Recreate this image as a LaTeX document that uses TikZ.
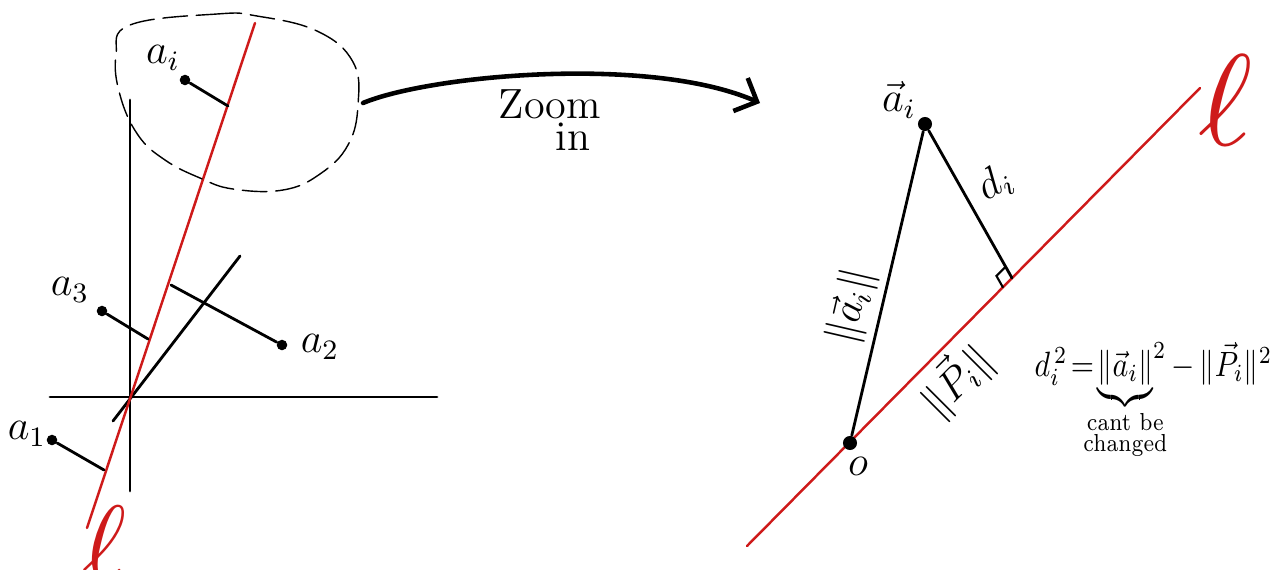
\documentclass[tikz,border=0pt]{standalone}
\usepackage{amsmath}
\usepackage{mathtools}
\usepackage{xcolor}
\usetikzlibrary{positioning, calc, arrows.meta}
\definecolor{lred}{RGB}{206,26,26}

\begin{document}
\begin{tikzpicture}[x=0.01cm, y=-0.01cm, line cap=round,
    redline/.style={lred, line width=0.7pt},
    dot/.style={circle, fill, inner sep=0pt, minimum size=3pt},
    lbl/.style={font=\large}]
  \useasboundingbox (0,0) rectangle (1275,569);

  % Left: axes and the line l
  \coordinate (o) at (130,397);
  \coordinate (xl) at (50,397);
  \coordinate (xr) at (437,397);
  \coordinate (yt) at (130,100);
  \coordinate (yb) at (130,491);
  \coordinate (zl) at (113,421);
  \coordinate (zr) at (240,256);
  \draw[thick] (xl) -- (xr);
  \draw[thick] (yt) -- (yb);
  \draw[thick] (zl) -- (zr);
  \coordinate (lb) at (87,528);
  \coordinate (lt) at (255,23);
  \draw[redline] (lb) -- (lt);
  \node[text=lred, scale=3] (ellA) at (104,543) {$\ell$};

  % Points and their distances to l
  \foreach \n/\pt/\ft/\lpos/\txt in {1/{52,440}/{104,470}/{27,434}/a_1, 3/{102,311}/{148,339}/{70,290}/a_3,
      2/{282,345}/{171,285}/{320,347}/a_2, i/{185,80}/{228,106}/{163,58}/a_i} {
    \node[dot] (a\n) at (\pt) {};
    \coordinate (f\n) at (\ft);
    \draw[thick] (a\n) -- (f\n);
    \node[lbl] (la\n) at (\lpos) {$\txt$};
  }

  % Zoomed region
  \draw[thin, dash pattern=on 7pt off 2.5pt] plot[smooth cycle, tension=0.7] coordinates {
    (130,25) (217,14) (257,16) (317,31) (353,62) (358,105) (348,145) (320,174)
    (283,190) (233,189) (200,178) (165,160) (138,135) (120,95) (116,55)};
  \coordinate (zs) at (363,103);
  \coordinate (ze) at (760,103);
  \draw[line width=1.3pt, -{Straight Barb[length=1.8mm, width=3.6mm]}] (zs) .. controls (430,75) and (650,55) .. (ze);
  \node[lbl] (zoomtxt) at (550,104) {Zoom};
  \node[lbl] (intxt) at (573,137) {in};

  % Right: the triangle
  \coordinate (rlo) at (747,546);
  \coordinate (rhi) at (1200,88);
  \draw[redline] (rlo) -- (rhi);
  \node[text=lred, scale=3.7] (ellB) at (1226,100) {$\ell$};
  \node[dot, minimum size=4pt] (O) at (850,443) {};
  \node[dot, minimum size=4pt] (ai) at (925,124) {};
  \coordinate (F) at (1012,278);
  \draw[thick] (O) -- (ai) -- (F);
  \coordinate (ra) at ($(F)!0.13cm!(ai)$);
  \coordinate (rb) at ($(F)!0.13cm!(O)$);
  \draw[semithick] (ra) -- ($(ra)+(rb)-(F)$) -- (rb);

  \node[lbl] (lO) at (858,466) {$o$};
  \node[lbl] (lai) at (899,100) {$\vec{a}_i$};
  \node[lbl, rotate=30] (ld) at (995,183) {$d_i$};
  \node[lbl, rotate=77] (lalen) at (852,306) {$\|\vec{a}_i\|$};
  \node[lbl, rotate=45] (lplen) at (956,380) {$\|\vec{P}_i\|$};

  % d_i^2
  \node[anchor=base west, inner sep=0pt, xscale=0.85] (eqn) at (1034,376)
    {$d_i^{\,2}\!=\!{\underbrace{\|\vec{a}_i\|}_{\mathclap{\substack{\text{cant be}\\ \text{changed}}}}}^{2}\,{-}\,\|\vec{P}_i\|^{2}$};
\end{tikzpicture}
\end{document}
